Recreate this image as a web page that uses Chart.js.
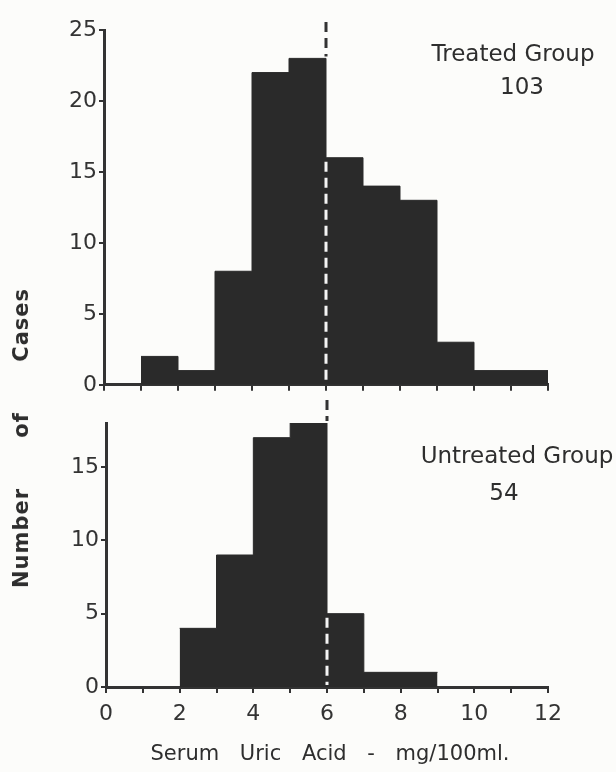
<!DOCTYPE html>
<html>
<head>
<meta charset="utf-8">
<script src="https://cdn.jsdelivr.net/npm/chart.js@4"></script>
<style>
  body { margin: 0; background: #fcfcfa; width: 616px; height: 772px; position: relative; overflow: hidden;
         font-family: 'DejaVu Sans', sans-serif; color: #2e2e2e; }
  canvas { position: absolute; left: 0; }
  #topChart { top: 0; }
  #bottomChart { top: 400px; }
  .lbl { position: absolute; white-space: nowrap; transform: translate(-50%, -50%); font-size: 23px; text-align: center; }
  #yTitle { left: 21px; top: 438px; transform: translate(-50%, -50%) rotate(-90deg); font-size: 21px; font-weight: bold; word-spacing: 42px; letter-spacing: 1px; }
  #xTitle { left: 330px; top: 753px; font-size: 21px; word-spacing: 14px; }
</style>
</head>
<body>
<canvas id="topChart" width="616" height="400"></canvas>
<canvas id="bottomChart" width="616" height="372"></canvas>
<div class="lbl" style="left:513px;top:53px">Treated Group</div>
<div class="lbl" style="left:522px;top:86px">103</div>
<div class="lbl" style="left:517px;top:455px">Untreated Group</div>
<div class="lbl" style="left:504px;top:492px">54</div>
<div class="lbl" id="yTitle">Number of Cases</div>
<div class="lbl" id="xTitle">Serum Uric Acid - mg/100ml.</div>
<script>
// histogram bins (mg/100ml) and case counts
const treatedEdges = [1, 2, 3, 4, 5, 6, 7, 8, 9, 10, 12];
const treatedCounts = [2, 1, 8, 22, 23, 16, 14, 13, 3, 1];
const untreatedEdges = [2, 3, 4, 5, 6, 7, 9];
const untreatedCounts = [4, 9, 17, 18, 5, 1];

const xTickMarks = [0, 1, 2, 3, 4, 5, 6, 7, 8, 9, 10, 11, 12];
const xTickLabels = [0, 2, 4, 6, 8, 10, 12];
const treatedYTicks = [0, 5, 10, 15, 20, 25];
const untreatedYTicks = [0, 5, 10, 15];
const cutoff = 6;

const ink = '#333';
const barColor = '#2a2a2a';
const tickFont = { family: 'DejaVu Sans', size: 22 };

function stepPoints(edges, counts) {
  return edges.map((x, i) => ({ x: x, y: counts[Math.min(i, counts.length - 1)] }));
}

// dashed line at the cutoff: dark over paper, white over the bars
const cutoffLine = {
  id: 'cutoffLine',
  afterDatasetsDraw(chart, args, opts) {
    const { ctx, chartArea, scales: { x, y } } = chart;
    const idx = opts.edges.indexOf(opts.value);
    const left = idx > 0 ? opts.counts[idx - 1] : 0;
    const right = idx >= 0 && idx < opts.counts.length ? opts.counts[idx] : 0;
    const px = x.getPixelForValue(opts.value);
    ctx.save();
    ctx.lineWidth = 3;
    ctx.setLineDash([10, 6]);
    ctx.strokeStyle = ink;
    ctx.beginPath();
    ctx.moveTo(px, opts.top);
    ctx.lineTo(px, y.getPixelForValue(Math.max(left, right)) - 2);
    ctx.stroke();
    ctx.strokeStyle = '#f4f4f4';
    ctx.beginPath();
    ctx.moveTo(px, y.getPixelForValue(Math.min(left, right)) + 4);
    ctx.lineTo(px, chartArea.bottom - 2);
    ctx.stroke();
    ctx.restore();
  }
};

function makeChart(id, edges, counts, yMax, yTicks, showXLabels, yWidth, xHeight, padTop) {
  return new Chart(document.getElementById(id), {
    type: 'line',
    data: {
      datasets: [{
        data: stepPoints(edges, counts),
        stepped: 'before',
        fill: 'origin',
        backgroundColor: barColor,
        borderColor: barColor,
        borderWidth: 1,
        pointRadius: 0
      }]
    },
    options: {
      responsive: false,
      animation: false,
      layout: { padding: { top: padTop, right: 68, left: 0, bottom: 0 } },
      plugins: {
        legend: { display: false },
        tooltip: { enabled: false },
        cutoffLine: { value: cutoff, edges: edges, counts: counts, top: padTop === 30 ? 22 : 0 }
      },
      scales: {
        x: {
          type: 'linear', min: 0, max: 12,
          afterBuildTicks: s => { s.ticks = xTickMarks.map(v => ({ value: v })); },
          afterFit: s => { s.height = xHeight; },
          ticks: {
            display: showXLabels, autoSkip: false, maxRotation: 0, padding: 8,
            font: tickFont, color: ink,
            callback: v => xTickLabels.includes(v) ? String(v) : ''
          },
          grid: { drawOnChartArea: false, drawTicks: true, tickLength: 6, color: ink, lineWidth: 2 },
          border: { color: ink, width: 3 }
        },
        y: {
          min: 0, max: yMax,
          afterBuildTicks: s => { s.ticks = yTicks.map(v => ({ value: v })); },
          afterFit: s => { s.width = yWidth; },
          ticks: { font: tickFont, color: ink, padding: 2 },
          grid: { drawOnChartArea: false, drawTicks: true, tickLength: 5, color: ink, lineWidth: 2 },
          border: { color: ink, width: 3 }
        }
      }
    },
    plugins: [cutoffLine]
  });
}

makeChart('topChart', treatedEdges, treatedCounts, 25, treatedYTicks, false, 104, 7, 30);
makeChart('bottomChart', untreatedEdges, untreatedCounts, 18, untreatedYTicks, true, 106, 85, 23);
</script>
</body>
</html>
